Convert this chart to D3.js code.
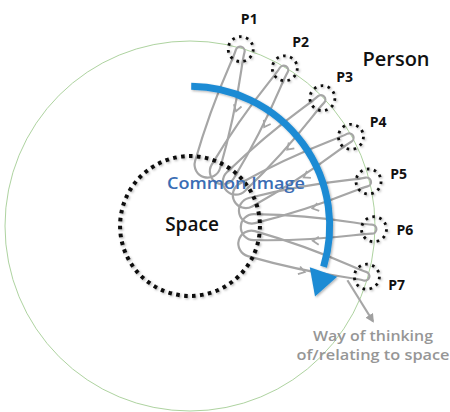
<!DOCTYPE html>
<html><head><meta charset="utf-8">
<script src="https://cdn.jsdelivr.net/npm/d3@7"></script>
<style>html,body{margin:0;padding:0;background:#fff;}svg{display:block;}</style>
</head><body>
<script>
// ---- data ----
const persons = ["P1","P2","P3","P4","P5","P6","P7"];
const personAngles = [16, 31, 46, 61, 76, 91, 106];   // degrees, clockwise from 12 o'clock
const labels = {space:"Space", person:"Person", common:"Common Image"};
const wayLines = ["Way of thinking", "of/relating to space"];
const arcSpan = [0.5, 109];   // blue "Common Image" arrow, degrees

// ---- layout ----
const W = 450, H = 412;
const cx = 190, cy = 226;
const rScale = d3.scaleLinear().domain([0, 1]).range([0, 185]); // fraction of person ring
const R = rScale(1), rSpace = rScale(0.378), rArc = rScale(0.755), rInner = rScale(0.345), rTip = rScale(1.005);
const angle = d3.scaleLinear().domain([0, 360]).range([0, 2 * Math.PI]);
function pol(r, deg) { const a = angle(deg); return [cx + r * Math.sin(a), cy - r * Math.cos(a)]; }

const svg = d3.select("body").append("svg").attr("width", W).attr("height", H);
const defs = svg.append("defs");
const sh = defs.append("filter").attr("id", "sh").attr("x", "-20%").attr("y", "-20%").attr("width", "140%").attr("height", "140%");
sh.append("feDropShadow").attr("dx", 1.2).attr("dy", 1.2).attr("stdDeviation", 1).attr("flood-color", "#000").attr("flood-opacity", 0.3);
defs.append("marker").attr("id", "ga").attr("viewBox", "0 0 10 10").attr("refX", 8).attr("refY", 5)
  .attr("markerWidth", 4).attr("markerHeight", 4).attr("orient", "auto")
  .append("path").attr("d", "M0,0 L10,5 L0,10 Z").attr("fill", "#a0a0a0");

// big person ring
svg.append("circle").attr("cx", cx).attr("cy", cy).attr("r", R)
  .attr("fill", "none").attr("stroke", "#aed3a0").attr("stroke-width", 1);

// loops
const gray = "#a6a6a6";
const w = 13;
const loopG = svg.append("g");
persons.forEach((p, i) => {
  const th = personAngles[i];
  const E = pol(rInner, th), P = pol(rTip, th);
  const L = Math.hypot(P[0] - E[0], P[1] - E[1]);
  const rot = Math.atan2(P[1] - E[1], P[0] - E[0]) * 180 / Math.PI;
  const g = loopG.append("g").attr("transform", `translate(${E[0]},${E[1]}) rotate(${rot})`);
  const d = `M0,${w} C${L * 0.6},${w} ${L - 18},4.5 ${L - 4},4.5 A4.5,4.5 0 0 0 ${L - 4},-4.5 C${L - 18},-4.5 ${L * 0.6},${-w} 0,${-w} A${w},${w} 0 0 0 0,${w}`;
  g.append("path").attr("d", d).attr("fill", "none").attr("stroke", gray).attr("stroke-width", 2.2);
  // chevron on clockwise-side line
  const t = rScale(0.665) - rInner;
  const s = w * 0.97;
  const dir = (i === persons.length - 1) ? -1 : 1;
  g.append("path").attr("d", `M${t + dir * 6},${s - 4} L${t},${s} L${t + dir * 6},${s + 4}`)
    .attr("fill", "none").attr("stroke", gray).attr("stroke-width", 1.8);
});

// exit arrow to "way of thinking"
const ex0 = pol(rScale(0.9), 109), ex1 = pol(rScale(1.115), 117.5);
svg.append("line").attr("x1", ex0[0]).attr("y1", ex0[1]).attr("x2", ex1[0]).attr("y2", ex1[1])
  .attr("stroke", gray).attr("stroke-width", 2.2).attr("marker-end", "url(#ga)");

// space circle
svg.append("circle").attr("cx", cx).attr("cy", cy).attr("r", rSpace)
  .attr("fill", "none").attr("stroke", "#111").attr("stroke-width", 4)
  .attr("stroke-dasharray", "3.6 4.4").attr("filter", "url(#sh)");

// blue arc arrow
const blue = "#1f8bd4";
const ap = d3.path();
ap.arc(cx, cy, rArc, angle(arcSpan[0] - 90), angle(arcSpan[1] - 2 - 90));
const blueG = svg.append("g").attr("filter", "url(#sh)");
blueG.append("path").attr("d", ap.toString()).attr("fill", "none").attr("stroke", blue).attr("stroke-width", 7).attr("stroke-linecap", "butt");
{
  const th = angle(arcSpan[1]);
  const b = pol(rArc + 1.5, arcSpan[1]);
  const tx = Math.cos(th), ty = Math.sin(th), nx = Math.sin(th), ny = -Math.cos(th);
  const tip = [b[0] + 26 * tx, b[1] + 26 * ty];
  const c1 = [b[0] + 14.5 * nx, b[1] + 14.5 * ny], c2 = [b[0] - 14.5 * nx, b[1] - 14.5 * ny];
  blueG.append("path").attr("d", `M${c1[0]},${c1[1]} L${tip[0]},${tip[1]} L${c2[0]},${c2[1]} Z`).attr("fill", blue);
}

// person circles + labels
const pg = svg.append("g");
persons.forEach((p, i) => {
  const c = pol(R - 1, personAngles[i]);
  pg.append("circle").attr("cx", c[0]).attr("cy", c[1]).attr("r", 12.5)
    .attr("fill", "none").attr("stroke", "#111").attr("stroke-width", 2.8)
    .attr("stroke-dasharray", "2.6 4.5").attr("filter", "url(#sh)");
  const l = pol(R + 30, personAngles[i]);
  pg.append("text").attr("x", l[0]).attr("y", l[1] + 5).attr("text-anchor", "middle")
    .attr("font-family", "'Open Sans', sans-serif").attr("font-weight", "bold").attr("font-size", 14)
    .attr("fill", "#111").text(p);
});

// texts
const font = "'Open Sans', sans-serif";
svg.append("text").attr("x", 396).attr("y", 66).attr("text-anchor", "middle")
  .attr("font-family", font).attr("font-weight", 600).attr("font-size", 20).attr("fill", "#111").text(labels.person);
svg.append("text").attr("x", 192).attr("y", 231).attr("text-anchor", "middle")
  .attr("font-family", font).attr("font-weight", 600).attr("font-size", 19).attr("fill", "#111").text(labels.space);
svg.append("text").attr("x", 167).attr("y", 189)
  .attr("font-family", font).attr("font-weight", 600).attr("font-size", 16.5).attr("fill", "#3a6db4")
  .attr("textLength", 138).attr("lengthAdjust", "spacingAndGlyphs").text(labels.common);
wayLines.forEach((s, i) => {
  svg.append("text").attr("x", 373).attr("y", 341 + i * 19).attr("text-anchor", "middle")
    .attr("font-family", font).attr("font-weight", 600).attr("font-size", 14.5).attr("fill", "#969696")
    .attr("textLength", i === 0 ? 120 : 153).attr("lengthAdjust", "spacingAndGlyphs").text(s);
});
</script>
</body></html>
